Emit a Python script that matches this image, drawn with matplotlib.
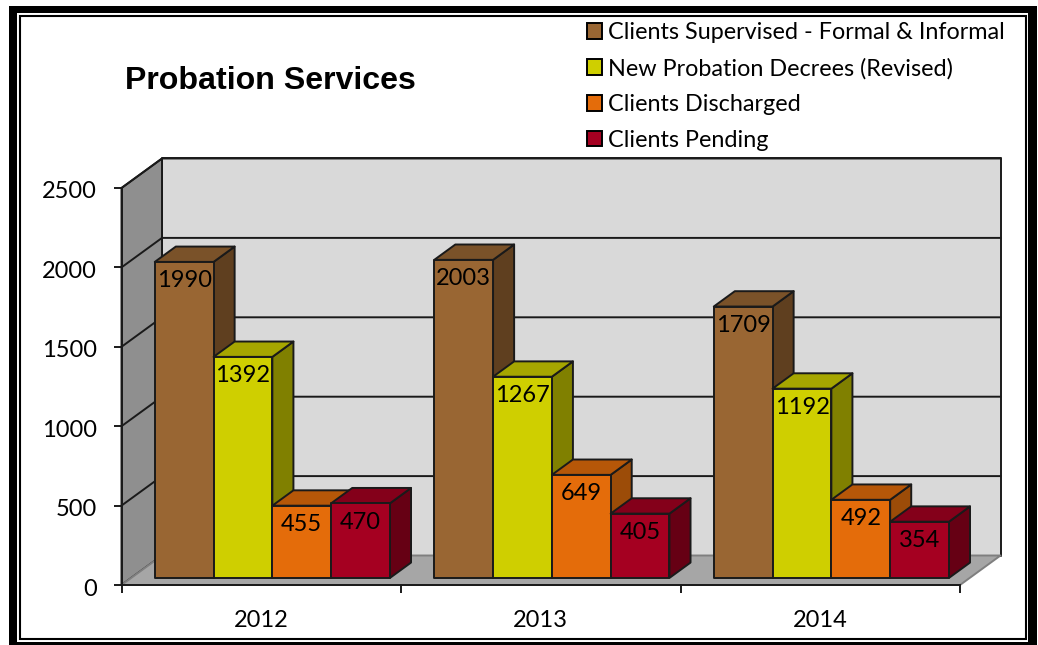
import matplotlib.pyplot as plt
from matplotlib.patches import Patch, Polygon, Rectangle
from matplotlib.transforms import ScaledTranslation

years = ["2012", "2013", "2014"]
series_names = [
    "Clients Supervised - Formal & Informal",
    "New Probation Decrees (Revised)",
    "Clients Discharged",
    "Clients Pending",
]
supervised = [1990, 2003, 1709]
decrees = [1392, 1267, 1192]
discharged = [455, 649, 492]
pending = [470, 405, 354]
y_ticks = [0, 500, 1000, 1500, 2000, 2500]

front_colors = ["#996633", "#cfcf00", "#e46c0a", "#a50021"]
top_colors = ["#7a5229", "#a6a600", "#b65708", "#84001a"]
side_colors = ["#5f3f1f", "#808000", "#9c4c08", "#660014"]
EDGE = "#1a1a1a"

W, H = 1038, 645
plt.rcParams["font.family"] = ["Lato", "DejaVu Sans"]

fig = plt.figure(figsize=(W / 100, H / 100), dpi=100)


def frame_box(x0, y0, x1, y1, **kw):
    # pixel box, y measured from the top of the picture
    fig.add_artist(Rectangle((x0 / W, 1 - y1 / H), (x1 - x0) / W, (y1 - y0) / H,
                             transform=fig.transFigure, zorder=-5, **kw))


frame_box(9, 6, 1037, 645, facecolor="black", edgecolor="none")
frame_box(17, 13, 1028, 642, facecolor="white", edgecolor="none")
frame_box(19.5, 15.5, 1025.5, 638.5, facecolor="white", edgecolor="black", linewidth=1.5)

ax = fig.add_axes([121.5 / W, 1 - 585 / H, (960 - 121.5) / W, (585 - 188) / H])
ax.set_zorder(2)
ax.set_xlim(0, 3)
ax.set_ylim(0, 2500)
ax.patch.set_visible(False)
for name in ["top", "right"]:
    ax.spines[name].set_visible(False)
for name in ["left", "bottom"]:
    ax.spines[name].set_color(EDGE)
    ax.spines[name].set_linewidth(1.4)

# full chart depth in x units and value units
DEPTH_X = 40.5 / ((960 - 121.5) / 3)
DEPTH_Y = 29.5 * 2500 / (585 - 188)


def proj(x, y, d):
    return x + d * DEPTH_X, y + d * DEPTH_Y


def poly(points, color, edge=EDGE, lw=1.4, z=2):
    ax.add_patch(Polygon([proj(*p) for p in points], closed=True, facecolor=color,
                         edgecolor=edge, linewidth=lw, joinstyle="round",
                         clip_on=False, zorder=z))


# walls and floor
poly([(0, 0, 1), (3, 0, 1), (3, 2500, 1), (0, 2500, 1)], "#d9d9d9", z=1)
poly([(0, 0, 0), (0, 0, 1), (0, 2500, 1), (0, 2500, 0)], "#8f8f8f", z=1)
poly([(0, 0, 0), (3, 0, 0), (3, 0, 1), (0, 0, 1)], "#a6a6a6", edge="#7f7f7f", z=1)

for v in y_ticks[1:]:
    xs, ys = zip(proj(0, v, 0), proj(0, v, 1), proj(3, v, 1))
    ax.plot(xs, ys, color=EDGE, linewidth=1.4, clip_on=False, zorder=1.5)

# bars, left to right so each front face covers the side of the one before
BAR_W = 58.8 / ((960 - 121.5) / 3)
D0, D1 = 0.24, 0.76
all_series = [supervised, decrees, discharged, pending]
for g in range(len(years)):
    left = g + (1 - 4 * BAR_W) / 2 + 0.005
    for s, values in enumerate(all_series):
        v = values[g]
        x0 = left + s * BAR_W
        x1 = x0 + BAR_W
        poly([(x1, 0, D0), (x1, 0, D1), (x1, v, D1), (x1, v, D0)], side_colors[s], z=3)
        poly([(x0, v, D0), (x1, v, D0), (x1, v, D1), (x0, v, D1)], top_colors[s], z=3)
        poly([(x0, 0, D0), (x1, 0, D0), (x1, v, D0), (x0, v, D0)], front_colors[s], z=3)
        lx, ly = proj((x0 + x1) / 2, v, D0)
        ax.annotate(str(v), (lx, ly), xytext=(0, -19), textcoords="offset pixels",
                    ha="center", va="center", fontsize=17, color="black",
                    annotation_clip=False, zorder=4)

ax.set_yticks(y_ticks)
ax.set_xticks([0, 1, 2, 3])
ax.set_xticklabels([])
ax.set_xticks([0.5, 1.5, 2.5], minor=True)
ax.set_xticklabels(years, minor=True)
ax.tick_params(axis="y", length=6, width=1.4, color=EDGE, pad=11.5, labelsize=17)
ax.tick_params(axis="x", which="major", length=6, width=1.4, color=EDGE)
ax.tick_params(axis="x", which="minor", length=0, pad=18, labelsize=17)

# value labels sit a little under their ticks
nudge = ScaledTranslation(0, -2 / 100, fig.dpi_scale_trans)
for label in ax.get_yticklabels():
    label.set_transform(label.get_transform() + nudge)

fig.text(125 / W, 1 - 81 / H, "Probation Services", family="Liberation Sans",
         fontweight="bold", fontsize=23.1, va="center", ha="left")

handles = [Patch(facecolor=c, edgecolor="black", linewidth=1.4) for c in front_colors]
fig.legend(handles, series_names, loc="upper left", bbox_to_anchor=(587 / W, 1 - 22 / H),
           frameon=False, fontsize=16.8, borderpad=0, borderaxespad=0,
           handlelength=0.65, handleheight=0.65, handletextpad=0.27, labelspacing=0.63)

fig.savefig("out.png", dpi=100)
